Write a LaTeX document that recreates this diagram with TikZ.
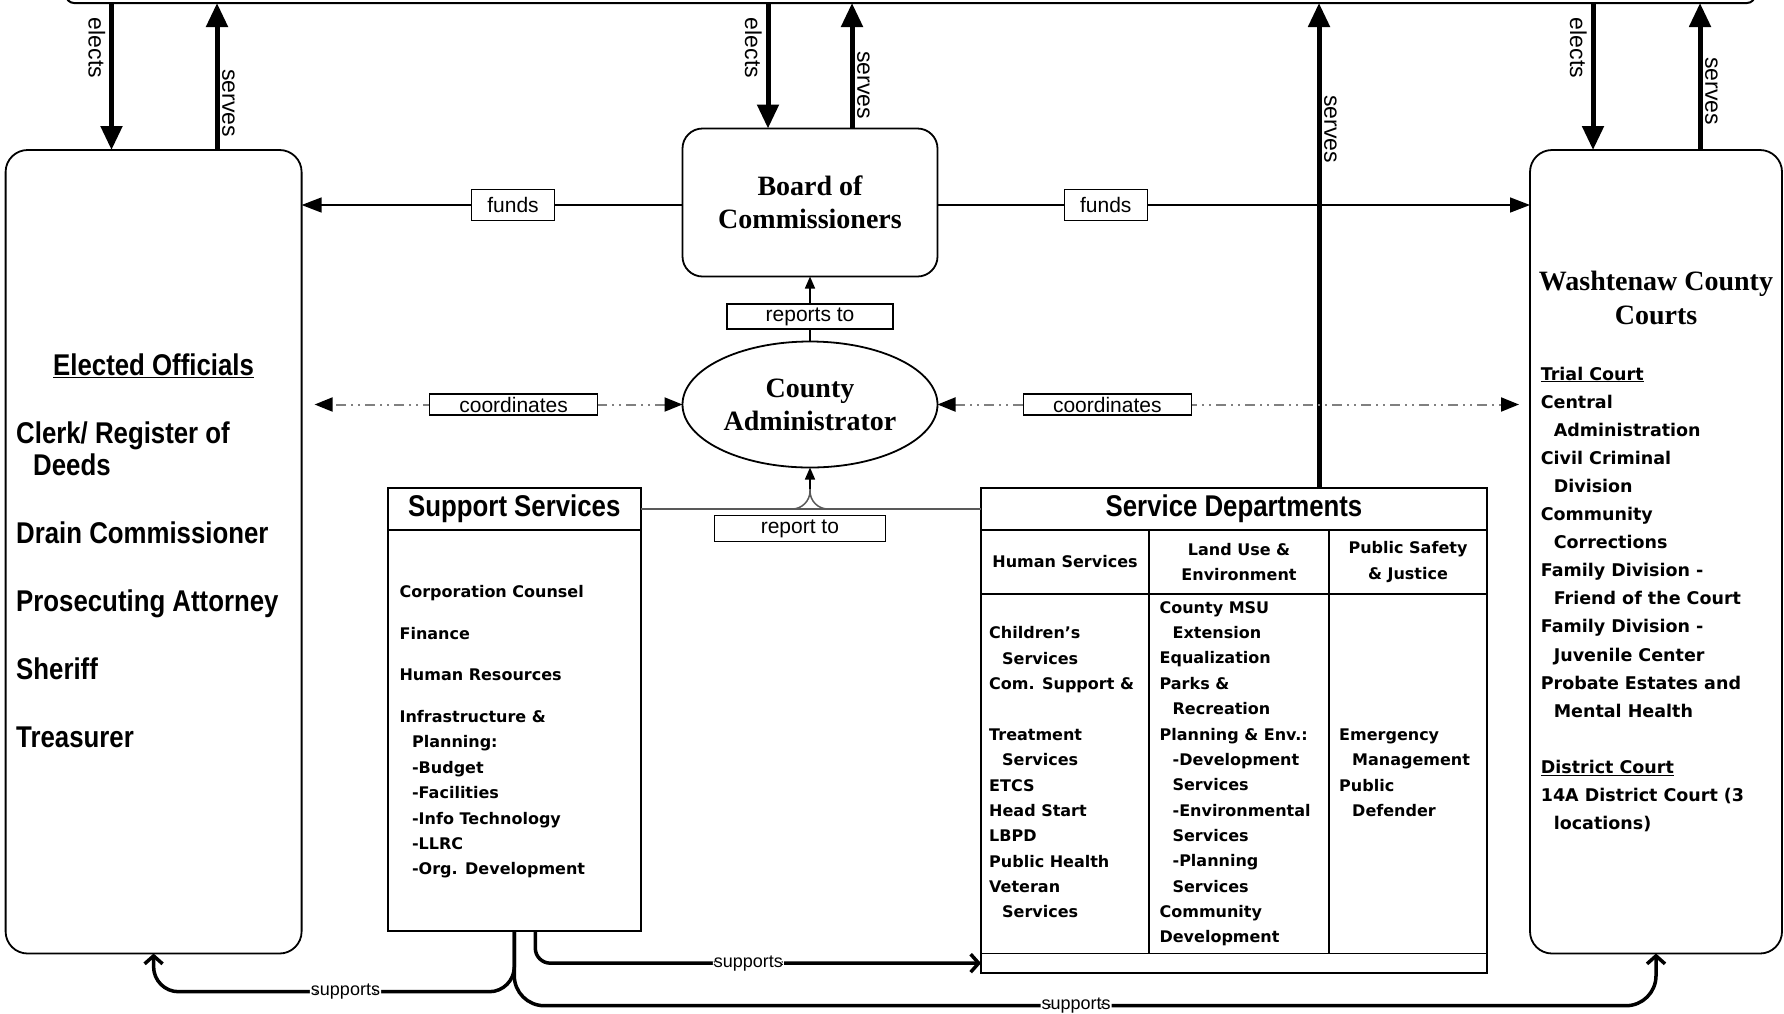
\documentclass[tikz,border=0pt]{standalone}
\usepackage{fontspec}
\setmainfont{Liberation Sans}
\newfontfamily\headfont{Liberation Serif}
\newfontfamily\condfont[FakeStretch=0.86]{Liberation Sans}
\newfontfamily\listfont{DejaVu Sans}
\usetikzlibrary{arrows.meta,shapes.geometric}

\tikzset{
  box/.style={draw, line width=1.8pt, inner sep=0pt, outer sep=0pt},
  roundbox/.style={box, rounded corners=22pt},
  headtext/.style={font=\headfont\bfseries\fontsize{28}{33}\selectfont, align=center},
  condtext/.style={font=\condfont\bfseries\fontsize{30}{32}\selectfont},
  listtext/.style={inner sep=0pt, align=left, font=\listfont\bfseries\fontsize{16}{25.35}\selectfont},
  bigarrow/.style={line width=5pt, -{Triangle[length=24pt,width=21pt]}},
  fundarrow/.style={line width=1.5pt, -{Triangle[length=20pt,width=15pt]}},
  smallarrow/.style={line width=1.5pt, -{Triangle[length=12pt,width=10pt]}},
  coordarrow/.style={line width=2pt, gray, dash pattern=on 10pt off 5pt on 2pt off 5pt on 2pt off 5pt,
    {Triangle[length=18pt,width=14pt,color=black]}-{Triangle[length=18pt,width=14pt,color=black]}},
  greyline/.style={line width=1.5pt, gray!70!black},
  supportline/.style={line width=3.5pt, -{Straight Barb[length=8pt,width=18pt]}},
  tag/.style={draw, solid, black, fill=white, line width=1.5pt, inner sep=0pt, font=\fontsize{21}{24}\selectfont},
  vtag/.style={inner sep=0pt, rotate=-90, font=\fontsize{23}{26}\selectfont},
  stag/.style={fill=white, inner sep=1pt, font=\fontsize{18}{20}\selectfont}
}

\begin{document}
\begin{tikzpicture}[x=1pt,y=-1pt]

\useasboundingbox (0,0) rectangle (1784,1013);

\draw [line width=2pt, rounded corners=8pt] (66,-20) -- (66,3) -- (1755,3) -- (1755,-20);

\coordinate (t1) at (111.5,3);
\coordinate (t2) at (217,3);
\coordinate (t3) at (768,3);
\coordinate (t4) at (852,3);
\coordinate (t5) at (1319,3);
\coordinate (t6) at (1593,3);
\coordinate (t7) at (1700,3);

% boxes
\node [roundbox, minimum width=296pt, minimum height=803.5pt] (elected) at (153.6,551.75) {};
\node [roundbox, rounded corners=20pt, minimum width=255pt, minimum height=148pt, headtext] (board) at (810,202.5) {Board of\\Commissioners};
\node [box, ellipse, minimum width=255pt, minimum height=126pt, headtext] (admin) at (810,404.5) {County\\Administrator};
\node [roundbox, minimum width=252pt, minimum height=803.5pt] (courts) at (1656,551.75) {};

\node [box, minimum width=252.6pt, minimum height=42pt, condtext] (suphead) at (514.3,509) {Support Services};
\node [box, minimum width=252.6pt, minimum height=400.7pt, anchor=north] (supbody) at (suphead.south) {};

\node [box, minimum width=506pt, minimum height=42pt, condtext] (sdhead) at (1234,509) {Service Departments};
\node [box, minimum width=168pt, minimum height=64pt, anchor=north west, listtext, align=center] (hshead) at (sdhead.south west) {Human Services};
\node [box, minimum width=180pt, minimum height=64pt, anchor=north west, listtext, align=center] (luhead) at (hshead.north east) {Land Use \&\\Environment};
\node [box, minimum width=158pt, minimum height=64pt, anchor=north west, listtext, align=center] (pshead) at (luhead.north east) {Public Safety\\\& Justice};
\node [box, minimum width=168pt, minimum height=359.5pt, anchor=north west] (hsbody) at (hshead.south west) {};
\node [box, minimum width=180pt, minimum height=359.5pt, anchor=north west] (lubody) at (luhead.south west) {};
\node [box, minimum width=158pt, minimum height=359.5pt, anchor=north west] (psbody) at (pshead.south west) {};
\node [box, minimum width=506pt, minimum height=19.3pt, anchor=north west] (sdfoot) at (hsbody.south west) {};

% texts
\node [inner sep=0pt, anchor=base, condtext] (eotitle) at (153.6,375.5) {\underline{Elected Officials}};
\node [inner sep=0pt, anchor=north west, align=left, condtext] (eolist) at (16,422)
  {Clerk/ Register of\\\hspace*{17pt}Deeds\\[36pt]Drain Commissioner\\[36pt]Prosecuting Attorney\\[36pt]Sheriff\\[36pt]Treasurer};

\node [inner sep=0pt, headtext, font=\headfont\bfseries\fontsize{28}{34}\selectfont] (ctitle) at (1656,298) {Washtenaw County\\Courts};
\node [listtext, anchor=north west, font=\listfont\bfseries\fontsize{17.5}{28.1}\selectfont] (clist) at (1540.6,366.5)
  {\underline{Trial Court}\\Central\\\hspace*{13pt}Administration\\Civil Criminal\\\hspace*{13pt}Division\\Community\\\hspace*{13pt}Corrections\\Family Division -\\\hspace*{13pt}Friend of the Court\\Family Division -\\\hspace*{13pt}Juvenile Center\\Probate Estates and\\\hspace*{13pt}Mental Health\\[28.1pt]\underline{District Court}\\14A District Court (3\\\hspace*{13pt}locations)};

\node [listtext, anchor=north west] (suplist) at (399.4,585.3)
  {Corporation Counsel\\[16.3pt]Finance\\[16.3pt]Human Resources\\[16.3pt]Infrastructure \&\\\hspace*{12.5pt}Planning:\\\hspace*{12.5pt}-Budget\\\hspace*{12.5pt}-Facilities\\\hspace*{12.5pt}-Info Technology\\\hspace*{12.5pt}-LLRC\\\hspace*{12.5pt}-Org. Development};

\node [listtext, anchor=north west] (hslist) at (989,626.6)
  {Children’s\\\hspace*{13pt}Services\\Com. Support \&\\[25.35pt]Treatment\\\hspace*{13pt}Services\\ETCS\\Head Start\\LBPD\\Public Health\\Veteran\\\hspace*{13pt}Services};
\node [listtext, anchor=north west] (lulist) at (1159.4,601.2)
  {County MSU\\\hspace*{13pt}Extension\\Equalization\\Parks \&\\\hspace*{13pt}Recreation\\Planning \& Env.:\\\hspace*{13pt}-Development\\\hspace*{13pt}Services\\\hspace*{13pt}-Environmental\\\hspace*{13pt}Services\\\hspace*{13pt}-Planning\\\hspace*{13pt}Services\\Community\\Development};
\node [listtext, anchor=north west] (pslist) at (1339,728.5)
  {Emergency\\\hspace*{13pt}Management\\Public\\\hspace*{13pt}Defender};

% elects / serves
\draw [bigarrow] (t1) -- (t1 |- elected.north);
\draw [bigarrow] (t2 |- elected.north) -- (t2);
\draw [bigarrow] (t3) -- (t3 |- board.north);
\draw [bigarrow] (t4 |- board.north) -- (t4);
\draw [bigarrow] (t5 |- sdhead.north) -- (t5);
\draw [bigarrow] (t6) -- (t6 |- courts.north);
\draw [bigarrow] (t7 |- courts.north) -- (t7);

\node [vtag, anchor=north] (el1) at (105.5,48) {elects};
\node [vtag, anchor=south] (se1) at (222,103) {serves};
\node [vtag, anchor=north] (el2) at (762,48) {elects};
\node [vtag, anchor=south] (se2) at (857,85) {serves};
\node [vtag, anchor=south] (se3) at (1324,129) {serves};
\node [vtag, anchor=north] (el3) at (1587,48) {elects};
\node [vtag, anchor=south] (se4) at (1705,91) {serves};

% funds
\draw [fundarrow] ([yshift=-2.5pt]board.west) -- node [tag, pos=0.445, minimum width=83pt, minimum height=31pt] (fund1) {funds} ([yshift=-2.5pt]board.west -| elected.east);
\draw [fundarrow] ([yshift=-2.5pt]board.east) -- node [tag, pos=0.284, minimum width=83pt, minimum height=31pt] (fund2) {funds} ([yshift=-2.5pt]board.east -| courts.west);

% coordinates
\draw [coordarrow] (admin.west) -- node [tag, pos=0.459, minimum width=168pt, minimum height=21pt] (coord1) {coordinates} ([xshift=13pt]admin.west -| elected.east);
\draw [coordarrow] (admin.east) -- node [tag, pos=0.292, minimum width=168pt, minimum height=21pt] (coord2) {coordinates} ([xshift=-11pt]admin.east -| courts.west);

% reporting
\draw [smallarrow] (admin.north) -- node [tag, pos=0.385, minimum width=166pt, minimum height=25pt] (rep1) {reports to} (board.south);

\coordinate (rt) at (admin.south |- suphead.east);
\draw [greyline] (suphead.east) -- node [tag, pos=0.468, yshift=-19.5pt, minimum width=171pt, minimum height=26pt] (rep2) {report to} (sdhead.west);
\draw [greyline, rounded corners=18pt] ([xshift=-20pt]rt) -| ([yshift=20pt]rt);
\draw [greyline, rounded corners=18pt] ([xshift=20pt]rt) -| ([yshift=20pt]rt);
\draw [smallarrow] ([yshift=20pt]rt) -- (admin.south);

% supports
\draw [supportline, rounded corners=25pt] (supbody.south) |- node [stag, pos=0.734] (sup1) {supports} ([yshift=-61pt]supbody.south -| elected.south) -- (elected.south);
\draw [supportline, rounded corners=30pt] (supbody.south) |- node [stag, pos=0.746] (sup2) {supports} ([yshift=-75pt]supbody.south -| courts.south) -- (courts.south);
\draw [supportline, rounded corners=15pt] ([xshift=21pt]supbody.south) |- node [stag, pos=0.739] (sup3) {supports} (sdfoot.west);

\end{tikzpicture}
\end{document}
